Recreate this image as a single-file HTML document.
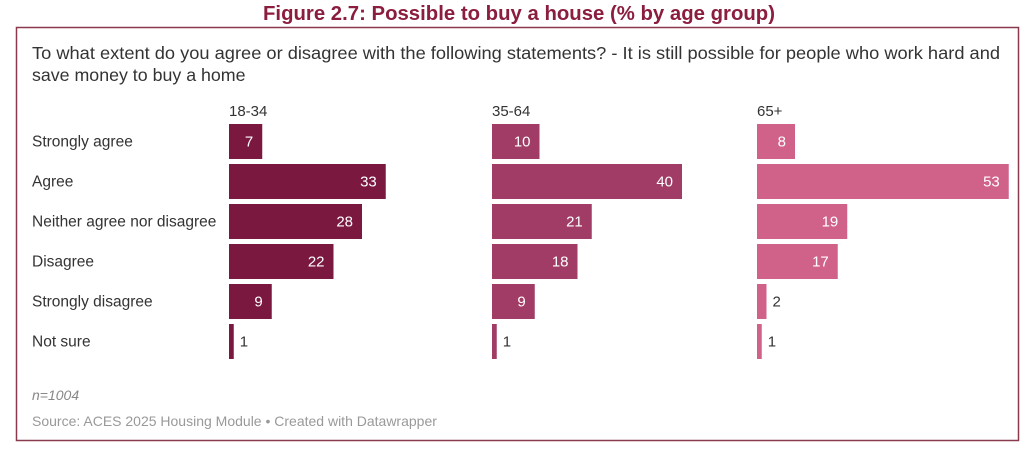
<!DOCTYPE html>
<html><head><meta charset="utf-8"><style>
body{margin:0;width:1030px;height:456px;background:#fff;font-family:"Liberation Sans",sans-serif;overflow:hidden}
</style></head><body>
<svg width="1030" height="456" xmlns="http://www.w3.org/2000/svg">
<text x="519" y="20" text-anchor="middle" font-size="20" font-weight="bold" fill="#8b1d3f" textLength="512" lengthAdjust="spacingAndGlyphs">Figure 2.7: Possible to buy a house (% by age group)</text>
<rect x="16.5" y="27.5" width="1002" height="413" fill="none" stroke="#8a3a4c" stroke-width="1.5"/>
<text x="32" y="59" font-size="17.8" fill="#333" textLength="968" lengthAdjust="spacingAndGlyphs">To what extent do you agree or disagree with the following statements? - It is still possible for people who work hard and</text>
<text x="32" y="81" font-size="17.8" fill="#333">save money to buy a home</text>
<g id="rows"></g>
<g id="panels"></g>
<text x="32" y="400" font-size="14" font-style="italic" fill="#888">n=1004</text>
<text x="32" y="426" font-size="14" fill="#999">Source: ACES 2025 Housing Module • Created with Datawrapper</text>
</svg>
<script>
const categories=["Strongly agree","Agree","Neither agree nor disagree","Disagree","Strongly disagree","Not sure"];
const groups=["18-34","35-64","65+"];
const values1834=[7,33,28,22,9,1];
const values3564=[10,40,21,18,9,1];
const values65=[8,53,19,17,2,1];
const series=[values1834,values3564,values65];
const colors=["#7a1840","#a03c65","#d0628a"];
const panelX=[229,492,757];
const scale=4.75, rowTop=124, rowStep=40, barH=35;
const NS="http://www.w3.org/2000/svg";
const rowsG=document.getElementById('rows'), panelsG=document.getElementById('panels');
function yPos(i){return rowTop+i*rowStep;}
function xLen(v){return v*scale;}
categories.forEach((c,i)=>{
  const t=document.createElementNS(NS,'text');
  t.setAttribute('x',32);t.setAttribute('y',yPos(i)+barH/2+5);
  t.setAttribute('font-size',15.5);t.setAttribute('fill','#333');
  t.textContent=c;
  
  
  rowsG.appendChild(t);
});
groups.forEach((g,p)=>{
  const x0=panelX[p];
  const h=document.createElementNS(NS,'text');
  h.setAttribute('x',x0);h.setAttribute('y',116);h.setAttribute('font-size',15);h.setAttribute('fill','#333');
  h.textContent=g;
  
  
  panelsG.appendChild(h);
  series[p].forEach((v,i)=>{
    const r=document.createElementNS(NS,'rect');
    const w=Math.max(xLen(v),3);
    r.setAttribute('x',x0);r.setAttribute('y',yPos(i));r.setAttribute('width',w);r.setAttribute('height',barH);r.setAttribute('fill',colors[p]);
    
    
    panelsG.appendChild(r);
    const t=document.createElementNS(NS,'text');
    t.setAttribute('y',yPos(i)+barH/2+5);t.setAttribute('font-size',15);
    if(v>=5){t.setAttribute('x',x0+w-9);t.setAttribute('text-anchor','end');t.setAttribute('fill','#fff');}
    else{t.setAttribute('x',x0+w+6);t.setAttribute('fill','#333');}
    t.textContent=v;
    
    
    panelsG.appendChild(t);
  });
});
</script>
</body></html>
